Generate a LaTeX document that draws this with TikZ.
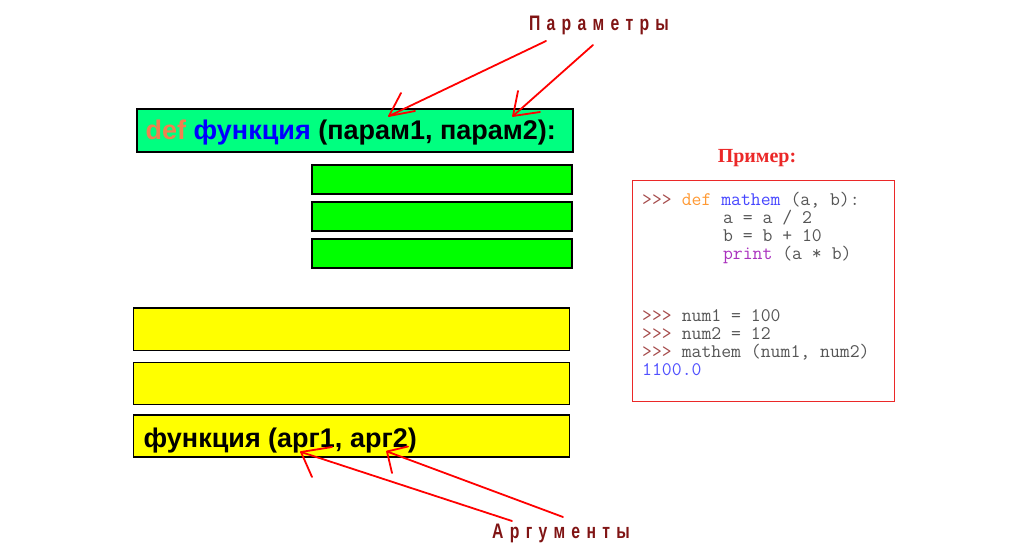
\documentclass[tikz,border=0pt]{standalone}
\usepackage{fontspec}
\newfontfamily\boxfont{Liberation Sans}
\newfontfamily\tagfont{Liberation Sans}[FakeStretch=0.75,LetterSpace=30]
\newfontfamily\titlefont{Liberation Serif}

\definecolor{hdrgreen}{RGB}{0,255,128}
\definecolor{boxgreen}{RGB}{0,255,0}
\definecolor{boxyellow}{RGB}{255,255,0}
\definecolor{defsalmon}{RGB}{240,128,80}
\definecolor{labelred}{RGB}{128,20,20}
\definecolor{arrowred}{RGB}{255,0,0}
\definecolor{framered}{RGB}{235,40,40}
\definecolor{codegray}{RGB}{85,85,85}
\definecolor{promptc}{RGB}{165,75,75}
\definecolor{defo}{RGB}{255,153,51}
\definecolor{nameblue}{RGB}{70,70,255}
\definecolor{printc}{RGB}{170,50,190}
\definecolor{outc}{RGB}{80,80,255}

\tikzset{
  bar/.style={draw=black, line width=1.6pt, anchor=north west, inner sep=0pt},
  hdrbar/.style={bar, fill=hdrgreen, minimum width=436pt, minimum height=43pt},
  greenbar/.style={bar, fill=boxgreen, minimum width=260pt, minimum height=29pt},
  yellowbar/.style={bar, fill=boxyellow, minimum width=436pt, minimum height=42pt},
  bartext/.style={anchor=base west, inner sep=0pt, font=\boxfont\bfseries\fontsize{27}{30}\selectfont},
  tag/.style={anchor=base, inner sep=0pt, text=labelred, font=\tagfont\bfseries\fontsize{21}{24}\selectfont},
  arrowline/.style={draw=arrowred, line width=1.8pt, line cap=round, line join=round},
  codeline/.style={anchor=base west, inner sep=0pt, text=codegray, font=\ttfamily\fontsize{19.2}{20}\selectfont},
}

\begin{document}
\frenchspacing
\begin{tikzpicture}[x=1pt, y=-1pt]
  \useasboundingbox (0,0) rectangle (1010,556);

  % function definition header and its body
  \node[hdrbar] (hdr) at (136,108) {};
  \node[bartext] (hdrtext) at (145.5,140)
    {\textcolor{defsalmon}{def} \textcolor{blue}{функция} (парам1, парам2):};
  \node[greenbar] (body1) at (311,164) {};
  \node[greenbar] (body2) at (311,201) {};
  \node[greenbar] (body3) at (311,238) {};

  % calling code
  \node[yellowbar] (call1) at (132.5,307.5) {};
  \node[yellowbar] (call2) at (132.5,361.5) {};
  \node[yellowbar] (call3) at (132.5,414) {};
  \node[bartext] (calltext) at (143.5,447) {функция (арг1, арг2)};

  % labels
  \node[tag] (params) at (599,31) {Параметры};
  \node[tag] (args) at (561,538) {Аргументы};

  % parameter arrows
  \coordinate (ps1) at (546,41);  \coordinate (pt1) at (389,116);
  \coordinate (ps2) at (593,45);  \coordinate (pt2) at (513,116);
  \draw[arrowline] (ps1) -- (pt1);
  \draw[arrowline] (pt1) -- ++(12,-23) (pt1) -- ++(26,-5);
  \draw[arrowline] (ps2) -- (pt2);
  \draw[arrowline] (pt2) -- ++(5,-25) (pt2) -- ++(27,-4);

  % argument arrows
  \coordinate (as1) at (512,521); \coordinate (at1) at (301,452);
  \coordinate (as2) at (563,517); \coordinate (at2) at (387,451.5);
  \draw[arrowline] (as1) -- (at1);
  \draw[arrowline] (at1) -- ++(31,-5) (at1) -- ++(11,25);
  \draw[arrowline] (as2) -- (at2);
  \draw[arrowline] (at2) -- ++(21,-5) (at2) -- ++(5,21.5);

  % example panel
  \node[anchor=base, inner sep=0pt, text=framered,
        font=\titlefont\bfseries\fontsize{20}{24}\selectfont] (extitle) at (757,163) {Пример:};
  \node[draw=framered, line width=1.3pt, anchor=north west, inner sep=0pt,
        minimum width=262pt, minimum height=221pt] (frame) at (631.5,180) {};

  \node[codeline] (c1) at (642,206)
    {\textcolor{promptc}{>>>} \textcolor{defo}{def} \textcolor{nameblue}{mathem} (a, b):};
  \node[codeline] (c2) at (722.8,224) {a = a / 2};
  \node[codeline] (c3) at (722.8,242) {b = b + 10};
  \node[codeline] (c4) at (722.8,260) {\textcolor{printc}{print} (a * b)};
  \node[codeline] (c5) at (642,321) {\textcolor{promptc}{>>>} num1 = 100};
  \node[codeline] (c6) at (642,339) {\textcolor{promptc}{>>>} num2 = 12};
  \node[codeline] (c7) at (642,357) {\textcolor{promptc}{>>>} mathem (num1, num2)};
  \node[codeline] (c8) at (642,375) {\textcolor{outc}{1100.0}};
\end{tikzpicture}
\end{document}
